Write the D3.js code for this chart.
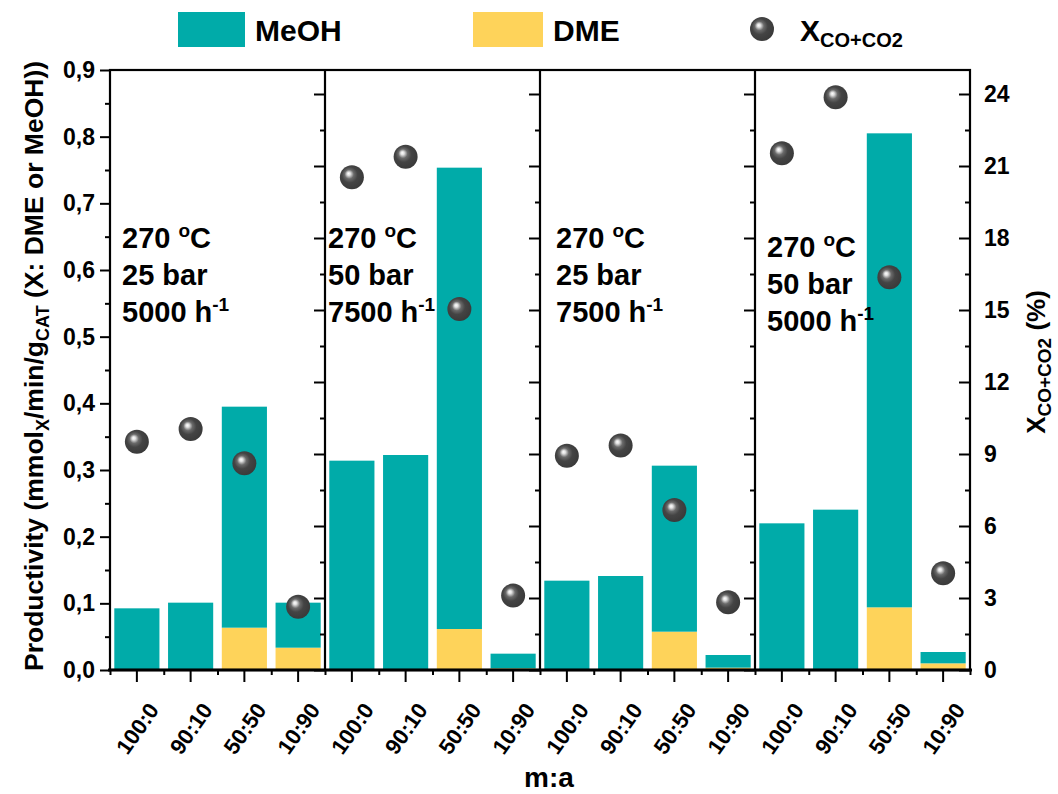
<!DOCTYPE html>
<html>
<head>
<meta charset="utf-8">
<script src="https://cdn.jsdelivr.net/npm/d3@7"></script>
<style>
  body { margin: 0; background: #fff; }
  svg { font-family: "Liberation Sans", Arial, sans-serif; font-weight: bold; }
</style>
</head>
<body>
<svg id="chart" width="1058" height="794"></svg>
<script>
// categories
const ratios = ["100:0", "90:10", "50:50", "10:90"];
const temps = ["270", "270", "270", "270"];
const pressures = ["25 bar", "50 bar", "25 bar", "50 bar"];
const ghsv = ["5000", "7500", "7500", "5000"];

// productivity (mmol/min/gCAT), one row per panel
const dme = [
    [0, 0, 0.0635, 0.0335],
    [0, 0, 0.0615, 0.0025],
    [0, 0, 0.0575, 0.0035],
    [0, 0, 0.094, 0.010]
];
const meoh = [
    [0.0925, 0.101, 0.3315, 0.0675],
    [0.314, 0.3225, 0.692, 0.022],
    [0.134, 0.141, 0.249, 0.019],
    [0.22, 0.2405, 0.711, 0.017]
];
// conversion X CO+CO2 (%)
const conversion = [
    [9.51, 10.04, 8.61, 2.64],
    [20.53, 21.39, 15.04, 3.10],
    [8.93, 9.35, 6.67, 2.82],
    [21.53, 23.86, 16.36, 4.03]
];

const leftTicks = [0, 0.1, 0.2, 0.3, 0.4, 0.5, 0.6, 0.7, 0.8, 0.9];
const rightTicks = [0, 3, 6, 9, 12, 15, 18, 21, 24];

const teal = "#00aba9";
const yellow = "#fed35a";

const svg = d3.select("#chart");
const x0 = 110, x1 = 970, yTop = 70, yBot = 670;

// flatten rows into one list of bars
const rows = [];
dme.forEach((panel, p) => panel.forEach((v, i) => {
    rows.push({ key: p + "-" + i, p: p, ratio: ratios[i], dme: v, meoh: meoh[p][i], conv: conversion[p][i] });
}));

const x = d3.scaleBand()
    .domain(rows.map(d => d.key))
    .range([x0, x1])
    .paddingInner(0.16)
    .paddingOuter(0.08);

const slot = d3.scaleLinear().domain([0, rows.length]).range([x0, x1]);
const yL = d3.scaleLinear().domain([0, 0.9]).range([yBot, yTop]);
const yR = d3.scaleLinear().domain([0, 25]).range([yBot, yTop]);

// sphere gradient
const defs = svg.append("defs");
const grad = defs.append("radialGradient")
    .attr("id", "ball")
    .attr("cx", "0.45").attr("cy", "0.45").attr("r", "0.6")
    .attr("fx", "0.36").attr("fy", "0.34");
[[0, "#ffffff"], [0.12, "#e0e0e0"], [0.32, "#6a6a6a"], [0.55, "#444444"], [1, "#383838"]]
    .forEach(s => grad.append("stop").attr("offset", s[0]).attr("stop-color", s[1]));

// bars
const bars = svg.append("g");
bars.selectAll(".dme")
    .data(rows)
    .enter().append("rect")
    .attr("x", d => x(d.key))
    .attr("width", x.bandwidth())
    .attr("y", d => yL(d.dme))
    .attr("height", d => yL(0) - yL(d.dme))
    .attr("fill", yellow);

bars.selectAll(".meoh")
    .data(rows)
    .enter().append("rect")
    .attr("x", d => x(d.key))
    .attr("width", x.bandwidth())
    .attr("y", d => yL(d.dme + d.meoh))
    .attr("height", d => yL(d.dme) - yL(d.dme + d.meoh))
    .attr("fill", teal);

// left axis
const leftAxis = svg.append("g")
    .attr("transform", `translate(${x0},0)`)
    .call(d3.axisLeft(yL).tickValues(leftTicks).tickSize(10).tickPadding(5)
        .tickFormat(d => d3.format(".1f")(d).replace(".", ",")));
leftAxis.selectAll("text").attr("font-size", 23).attr("fill", "#000");
svg.append("g")
    .attr("transform", `translate(${x0},0)`)
    .call(d3.axisLeft(yL).tickValues(d3.range(0.05, 0.9, 0.1)).tickSize(5).tickFormat(""));

// right axis and panel separators (ticks pointing inward)
const rightAxis = svg.append("g")
    .attr("transform", `translate(${x1},0)`)
    .call(d3.axisRight(yR).tickValues(rightTicks).tickSize(-11).tickPadding(14));
rightAxis.selectAll("text").attr("font-size", 23).attr("fill", "#000");
[1, 2, 3, 4].forEach(k => {
    const g = svg.append("g").attr("transform", `translate(${slot(k * 4)},0)`);
    if (k < 4) g.call(d3.axisRight(yR).tickValues(rightTicks).tickSize(-11).tickFormat(""));
    g.append("g").call(d3.axisRight(yR).tickValues(d3.range(1.5, 25, 3)).tickSize(-5).tickFormat(""));
});

// bottom axis
const bottomAxis = svg.append("g")
    .attr("transform", `translate(0,${yBot})`)
    .call(d3.axisBottom(x).tickSize(12).tickFormat(k => rows.find(d => d.key === k).ratio));
bottomAxis.selectAll("text")
    .attr("font-size", 22)
    .attr("fill", "#000")
    .attr("text-anchor", "end")
    .attr("transform", "translate(23,40) rotate(-55)")
    .attr("x", 0).attr("y", 0).attr("dy", 0);
svg.append("g")
    .attr("transform", `translate(0,${yBot})`)
    .call(d3.axisBottom(slot).ticks(16).tickSize(5).tickFormat(""));

svg.selectAll(".domain").remove();
svg.selectAll(".tick line").attr("stroke", "#000").attr("stroke-width", 2);

// frame
const frame = svg.append("g").attr("stroke", "#000").attr("stroke-width", 2.2).attr("fill", "none");
frame.append("rect").attr("x", x0).attr("y", yTop).attr("width", x1 - x0).attr("height", yBot - yTop);
[1, 2, 3].forEach(k => frame.append("line")
    .attr("x1", slot(k * 4)).attr("x2", slot(k * 4))
    .attr("y1", yTop).attr("y2", yBot));
frame.append("line").attr("x1", x0 - 2).attr("x2", x1 + 2).attr("y1", yBot).attr("y2", yBot).attr("stroke-width", 3);

// spheres
svg.append("g").selectAll("circle")
    .data(rows)
    .enter().append("circle")
    .attr("cx", d => x(d.key) + x.bandwidth() / 2)
    .attr("cy", d => yR(d.conv))
    .attr("r", 12)
    .attr("fill", "url(#ball)");

// panel annotations
const annoX = [122, 328, 556, 767];
const annoY = [248, 248, 248, 257];
const anno = svg.append("g").attr("font-size", 29).attr("fill", "#000");
temps.forEach((t, p) => {
    const t1 = anno.append("text").attr("x", annoX[p]).attr("y", annoY[p]);
    t1.append("tspan").text(t + " ");
    t1.append("tspan").attr("font-size", 19).attr("dy", -11).text("o");
    t1.append("tspan").attr("dy", 11).text("C");
    anno.append("text").attr("x", annoX[p]).attr("y", annoY[p] + 37).text(pressures[p]);
    const t3 = anno.append("text").attr("x", annoX[p]).attr("y", annoY[p] + 74);
    t3.append("tspan").text(ghsv[p] + " h");
    t3.append("tspan").attr("font-size", 19).attr("dy", -11).text("-1");
});

// axis titles
const lt = svg.append("text")
    .attr("transform", "translate(43,366) rotate(-90)")
    .attr("text-anchor", "middle")
    .attr("font-size", 26.5);
lt.append("tspan").text("Productivity (mmol");
lt.append("tspan").attr("font-size", 18).attr("dy", 6).text("X");
lt.append("tspan").attr("dy", -6).text("/min/g");
lt.append("tspan").attr("font-size", 18).attr("dy", 6).text("CAT");
lt.append("tspan").attr("dy", -6).text(" (X: DME or MeOH))");

const rt = svg.append("text")
    .attr("transform", "translate(1045,362) rotate(-90)")
    .attr("text-anchor", "middle")
    .attr("font-size", 26);
rt.append("tspan").text("X");
rt.append("tspan").attr("font-size", 19).attr("dy", 6).text("CO+CO2");
rt.append("tspan").attr("dy", -6).text(" (%)");

svg.append("text")
    .attr("x", 549).attr("y", 787)
    .attr("text-anchor", "middle")
    .attr("font-size", 28)
    .text("m:a");

// legend
const legend = svg.append("g").attr("font-size", 30);
legend.append("rect").attr("x", 178).attr("y", 12).attr("width", 67).attr("height", 35).attr("fill", teal);
legend.append("text").attr("x", 255).attr("y", 41).text("MeOH");
legend.append("rect").attr("x", 473).attr("y", 12).attr("width", 70).attr("height", 35).attr("fill", yellow);
legend.append("text").attr("x", 553).attr("y", 41).text("DME");
legend.append("circle").attr("cx", 762).attr("cy", 29).attr("r", 12).attr("fill", "url(#ball)");
const lx = legend.append("text").attr("x", 800).attr("y", 41);
lx.append("tspan").text("X");
lx.append("tspan").attr("font-size", 20).attr("dy", 6).text("CO+CO2");
</script>
</body>
</html>
